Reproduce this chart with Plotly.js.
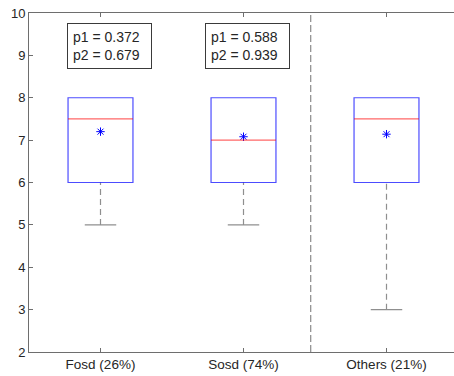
<!DOCTYPE html>
<html>
<head>
<meta charset="utf-8">
<script src="https://cdn.plot.ly/plotly-3.0.1.min.js"></script>
<style>
  html, body { margin: 0; padding: 0; overflow: hidden; background: #fff; }
  #chart { width: 460px; height: 376px; }
</style>
</head>
<body>
<div id="chart"></div>
<script>
// Group labels and box-plot statistics
const categories = ['Fosd (26%)', 'Sosd (74%)', 'Others (21%)'];
const q1Values = [6, 6, 6];
const medianValues = [7.5, 7, 7.5];
const q3Values = [8, 8, 8];
const lowerWhisker = [5, 5, 3];
const upperWhisker = [8, 8, 8];
const meanValues = [7.2, 7.08, 7.14];

// Test results shown above the first two groups
const p1Values = ['0.372', '0.588'];
const p2Values = ['0.679', '0.939'];

// Separator between the main groups and "Others"
const separatorX = 2.47;

const positions = categories.map((_, i) => i + 1);
const boxHalf = 0.227;
const capHalf = 0.11;
// left edges of the p-value text boxes (x data units)
const noteLeft = [0.767, 1.73];

const boxColor = 'rgba(0,0,255,0.7)';
const medianColor = 'rgba(255,0,0,0.6)';
const whiskerColor = '#8f8f8f';
const axisColor = '#6e6e6e';
const textColor = '#262626';

const shapes = [];
positions.forEach((x, i) => {
  // whisker (dashed) from box edge to the extremes, with a solid cap
  if (lowerWhisker[i] < q1Values[i]) {
    shapes.push({type: 'line', xref: 'x', yref: 'y', x0: x, x1: x, y0: lowerWhisker[i], y1: q1Values[i],
      line: {color: whiskerColor, width: 1.2, dash: '6px,4px'}});
    shapes.push({type: 'line', xref: 'x', yref: 'y', x0: x - capHalf, x1: x + capHalf, y0: lowerWhisker[i], y1: lowerWhisker[i],
      line: {color: whiskerColor, width: 1.2}});
  }
  if (upperWhisker[i] > q3Values[i]) {
    shapes.push({type: 'line', xref: 'x', yref: 'y', x0: x, x1: x, y0: q3Values[i], y1: upperWhisker[i],
      line: {color: whiskerColor, width: 1.2, dash: '6px,4px'}});
    shapes.push({type: 'line', xref: 'x', yref: 'y', x0: x - capHalf, x1: x + capHalf, y0: upperWhisker[i], y1: upperWhisker[i],
      line: {color: whiskerColor, width: 1.2}});
  }
  // interquartile box
  shapes.push({type: 'rect', xref: 'x', yref: 'y', x0: x - boxHalf, x1: x + boxHalf, y0: q1Values[i], y1: q3Values[i],
    line: {color: boxColor, width: 1.2}, fillcolor: 'rgba(0,0,0,0)'});
  // median
  shapes.push({type: 'line', xref: 'x', yref: 'y', x0: x - boxHalf, x1: x + boxHalf, y0: medianValues[i], y1: medianValues[i],
    line: {color: medianColor, width: 1.2}});
});

// vertical dashed separator spanning the full height
shapes.push({type: 'line', xref: 'x', yref: 'paper', x0: separatorX, x1: separatorX, y0: 0, y1: 1,
  line: {color: '#8a8a8a', width: 1.2, dash: '7px,3px'}});

const annotations = p1Values.map((p1, i) => ({
  xref: 'x', yref: 'y',
  x: noteLeft[i], y: 9.76,
  xanchor: 'left', yanchor: 'top',
  text: 'p1 = ' + p1 + '<br>p2 = ' + p2Values[i],
  showarrow: false,
  align: 'left',
  font: {family: 'Liberation Sans, Arial, sans-serif', size: 14, color: textColor},
  bordercolor: '#3a3a3a', borderwidth: 1, borderpad: 5,
  bgcolor: '#ffffff',
  width: 73, height: 34
}));

const meanTrace = {
  type: 'scatter', mode: 'markers',
  x: positions, y: meanValues,
  marker: {symbol: 'asterisk-open', size: 7, color: '#0000ff', line: {color: '#0000ff', width: 1}},
  hoverinfo: 'skip', showlegend: false
};

const layout = {
  width: 460, height: 376,
  margin: {l: 29, r: 2, t: 13, b: 24},
  paper_bgcolor: '#ffffff', plot_bgcolor: '#ffffff',
  font: {family: 'Liberation Sans, Arial, sans-serif', size: 13, color: textColor},
  showlegend: false,
  xaxis: {
    range: [0.5, 3.5], tickvals: positions, ticktext: categories,
    showline: true, linecolor: axisColor, linewidth: 1, mirror: 'ticks',
    ticks: 'inside', ticklen: 4, tickcolor: axisColor,
    showgrid: false, zeroline: false, fixedrange: true,
    tickfont: {size: 13.5, color: textColor}
  },
  yaxis: {
    range: [2, 10], dtick: 1, tick0: 2,
    showline: true, linecolor: axisColor, linewidth: 1, mirror: 'ticks',
    ticks: 'inside', ticklen: 4, tickcolor: axisColor,
    showgrid: false, zeroline: false, fixedrange: true,
    tickfont: {size: 13, color: textColor}
  },
  shapes: shapes,
  annotations: annotations
};

Plotly.newPlot('chart', [meanTrace], layout, {displayModeBar: false, staticPlot: true});
</script>
</body>
</html>
